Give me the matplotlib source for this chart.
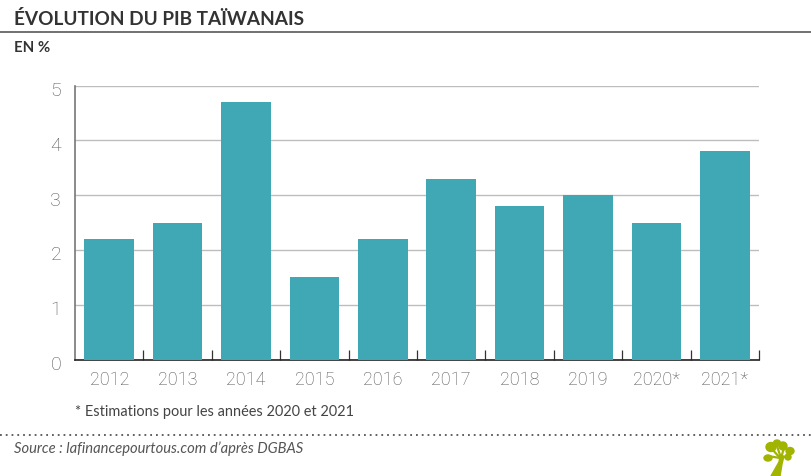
import matplotlib
matplotlib.use("Agg")
import matplotlib.pyplot as plt
from matplotlib.patches import Ellipse, Polygon
from matplotlib.transforms import ScaledTranslation

WIDTH, HEIGHT = 812, 476
BAR_COLOR = "#40a8b5"
TEXT_COLOR = "#333333"
LABEL_COLOR = "#555555"
TREE_COLOR = "#a0b400"

years = ["2012", "2013", "2014", "2015", "2016", "2017", "2018", "2019", "2020*", "2021*"]
growth = [2.2, 2.5, 4.7, 1.5, 2.2, 3.3, 2.8, 3.0, 2.5, 3.8]
y_ticks = [0, 1, 2, 3, 4, 5]

plt.rcParams["font.family"] = ["Lato", "DejaVu Sans"]

figure = plt.figure(figsize=(WIDTH / 100, HEIGHT / 100), dpi=100)

# plot area placed in pixels, measured on the reference
axes_one = figure.add_axes([75 / WIDTH, 1 - 359.5 / HEIGHT, 684 / WIDTH, 274 / HEIGHT])
positions = list(range(len(years)))
axes_one.bar(positions, growth, width=0.725, color=BAR_COLOR, zorder=3)
axes_one.set_xlim(-0.5, len(years) - 0.5)
axes_one.set_ylim(0, 5)

axes_one.set_yticks(y_ticks)
axes_one.set_yticklabels([str(t) for t in y_ticks], fontsize=14, color=LABEL_COLOR,
                         family="Roboto", fontweight="light")
axes_one.set_xticks(positions)
axes_one.set_xticklabels(years, fontsize=13, color=LABEL_COLOR, family="Roboto", fontweight="light")
axes_one.tick_params(axis="y", length=0, pad=10)
axes_one.tick_params(axis="x", length=0, pad=8)

# the y labels sit a little under their gridlines
shift_down = ScaledTranslation(0, -3.5 / 100, figure.dpi_scale_trans)
for label in axes_one.get_yticklabels():
    label.set_transform(label.get_transform() + shift_down)

axes_one.grid(True, axis="y", color="#bdbdbd", linewidth=1, zorder=0)
axes_one.spines["top"].set_visible(False)
axes_one.spines["right"].set_visible(False)
axes_one.spines["left"].set_color("#777777")
axes_one.spines["left"].set_linewidth(1.2)
axes_one.spines["bottom"].set_color("#222222")
axes_one.spines["bottom"].set_linewidth(1.2)

# small separators between the years, pointing up
axes_one.set_xticks([p + 0.5 for p in positions], minor=True)
axes_one.tick_params(axis="x", which="minor", direction="in", length=7, width=0.9, color="#333333")

figure.text(14 / WIDTH, 1 - 25 / HEIGHT, "ÉVOLUTION DU PIB TAÏWANAIS", fontsize=13.7,
            fontweight="bold", color=TEXT_COLOR, va="baseline")
figure.text(14 / WIDTH, 1 - 52 / HEIGHT, "EN %", fontsize=10.8, fontweight="bold",
            color=TEXT_COLOR, va="baseline")
figure.text(75 / WIDTH, 1 - 416 / HEIGHT, "* Estimations pour les années 2020 et 2021",
            fontsize=10.45, color="#444444", va="baseline")
figure.text(14 / WIDTH, 1 - 453 / HEIGHT, "Source : lafinancepourtous.com d’après DGBAS",
            fontsize=10.6, style="italic", color="#555555", va="baseline")

figure.add_artist(plt.Line2D([0, 1], [1 - 32 / HEIGHT] * 2, color="#666666", linewidth=1.3))
figure.add_artist(plt.Line2D([0, 1], [1 - 434.5 / HEIGHT] * 2, color="#555555", linewidth=1.3,
                             linestyle=(0, (1, 2.2))))

# logo tree, in pixel coordinates
logo = figure.add_axes([0, 0, 1, 1], facecolor="none")
logo.set_xlim(0, WIDTH)
logo.set_ylim(HEIGHT, 0)
logo.axis("off")
logo.add_patch(Polygon([(771, 476), (779, 462), (780, 456), (784, 456), (782, 464), (780, 476)], color=TREE_COLOR))
for start, end in [((780, 458), (768, 456)), ((780, 458), (772, 449)), ((781, 458), (777, 446)),
                   ((781, 458), (784, 448)), ((782, 458), (789, 455))]:
    logo.plot([start[0], end[0]], [start[1], end[1]], color=TREE_COLOR, linewidth=1.6)
for cx, cy, w, h, angle in [(768, 458, 8, 6, 0), (771, 447, 10, 9, 0), (777, 443, 7, 6, 0),
                            (783, 446, 8, 8, 0), (790, 451, 8, 7, 0), (788, 457, 6, 6, 0)]:
    logo.add_patch(Ellipse((cx, cy), w, h, angle=angle, color=TREE_COLOR))

figure.savefig("out.png", dpi=100)
plt.close(figure)
